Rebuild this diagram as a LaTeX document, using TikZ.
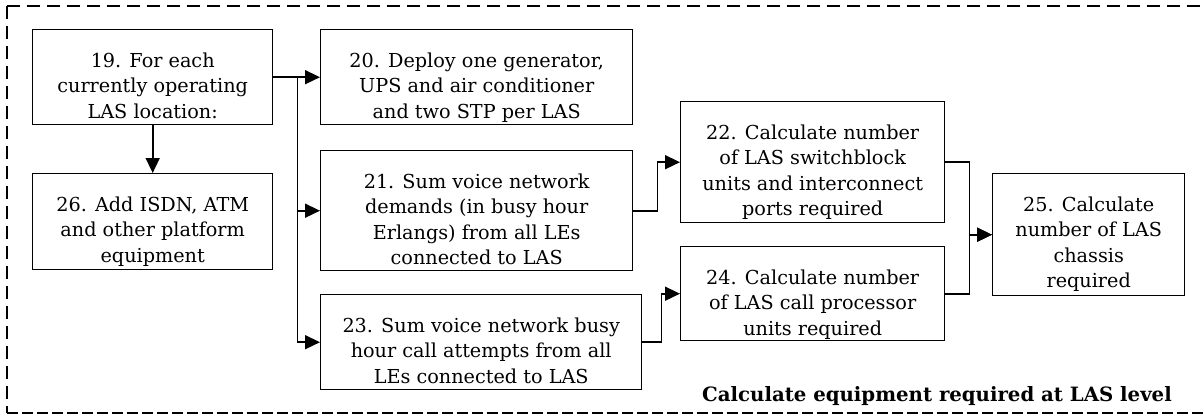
\documentclass[tikz,border=0pt]{standalone}
\usepackage{fontspec}
\setmainfont{DejaVu Serif}
\usetikzlibrary{arrows.meta,calc}
\begin{document}
\begin{tikzpicture}[x=1bp,y=-1bp,
  box/.style={draw, line width=1.4bp, inner sep=0, anchor=north west},
  txt/.style={align=center, inner sep=0, anchor=north,
              font=\fontsize{19.3pt}{25.6pt}\selectfont},
  link/.style={line width=1.6bp, -{Triangle[length=15bp,width=14bp]}},
  frameA/.style={line width=1.8bp, dash pattern=on 13bp off 7bp},
  frameB/.style={line width=2bp, dash pattern=on 11bp off 4bp}]

\useasboundingbox (0,0) rectangle (1204,414);

% dashed enclosure (open on the right)
\coordinate (fTL) at (7.3,6);
\coordinate (fTR) at (1212,6);
\coordinate (fBL) at (7.3,412.5);
\coordinate (fBR) at (1212,412.5);
\draw[frameA] (fTL) -- (fTR);
\draw[frameA] (fTL) -- (fBL);
\draw[frameB] (fBL) -- (fBR);

% process boxes
\node[box, minimum width=240bp, minimum height=95bp]  (b19) at (32,29)  {};
\node[box, minimum width=312bp, minimum height=95bp]  (b20) at (320,29) {};
\node[box, minimum width=240bp, minimum height=96bp]  (b26) at (32,173) {};
\node[box, minimum width=312bp, minimum height=120bp] (b21) at (320,150) {};
\node[box, minimum width=321bp, minimum height=95bp]  (b23) at (320,294) {};
\node[box, minimum width=264bp, minimum height=121bp] (b22) at (680,101) {};
\node[box, minimum width=264bp, minimum height=94bp]  (b24) at (680,246) {};
\node[box, minimum width=192bp, minimum height=122bp] (b25) at (992,173) {};

% box texts
\node[txt] (t19) at ($(b19.north)+(0,23.5)$) {19. For each\\currently operating\\LAS location:};
\node[txt] (t20) at ($(b20.north)+(0,23.5)$) {20. Deploy one generator,\\UPS and air conditioner\\and two STP per LAS};
\node[txt] (t26) at ($(b26.north)+(0,23.5)$) {26. Add ISDN, ATM\\and other platform\\equipment};
\node[txt] (t21) at ($(b21.north)+(0,23.5)$) {21. Sum voice network\\demands (in busy hour\\Erlangs) from all LEs\\connected to LAS};
\node[txt] (t23) at ($(b23.north)+(0,23.5)$) {23. Sum voice network busy\\hour call attempts from all\\LEs connected to LAS};
\node[txt] (t22) at ($(b22.north)+(0,23.5)$) {22. Calculate number\\of LAS switchblock\\units and interconnect\\ports required};
\node[txt] (t24) at ($(b24.north)+(0,23.5)$) {24. Calculate number\\of LAS call processor\\units required};
\node[txt] (t25) at ($(b25.north)+(0,23.5)$) {25. Calculate\\number of LAS\\chassis\\required};

% caption of the enclosure
\node[font=\bfseries\fontsize{19.8pt}{25.6pt}\selectfont, anchor=base east, inner sep=0]
  (lbl) at (1172,401) {Calculate equipment required at LAS level};

% connectors
\coordinate (trunk) at ($(b19.east)+(24,0)$);
\draw[link] (b19.east) -- (b20.west);
\draw[link] (trunk) |- (b21.west);
\draw[link] (trunk) |- (b23.west);
\draw[link] (b19.south) -- (b26.north);
\draw[link] (b21.east) -- ++(24,0) |- (b22.west);
\draw[link] (b23.east) -- ++(19,0) |- (b24.west);
\draw[link] (b22.east) -- ++(24,0) |- (b25.west);
\draw[link] (b24.east) -- ++(24,0) |- (b25.west);
\end{tikzpicture}
\end{document}
